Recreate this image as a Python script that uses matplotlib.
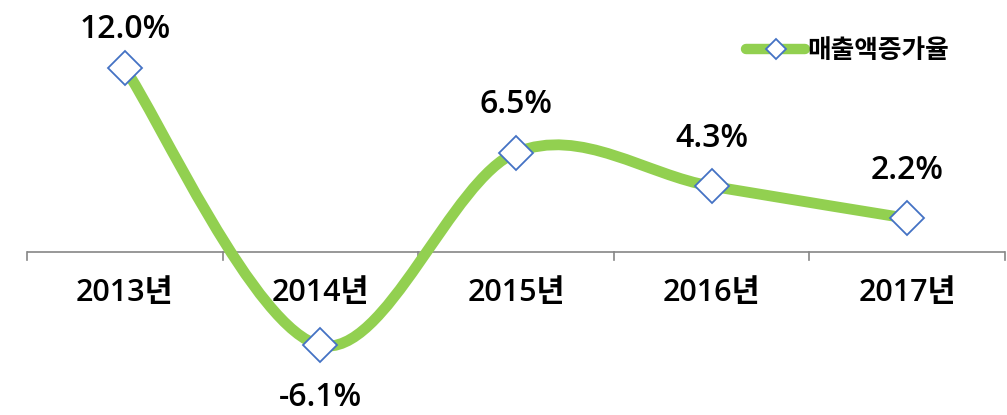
import matplotlib
matplotlib.use("Agg")
import matplotlib.pyplot as plt
from matplotlib.path import Path
from matplotlib.patches import PathPatch
import numpy as np

plt.rcParams['font.family'] = ['Open Sans', 'Noto Sans CJK KR', 'DejaVu Sans']

categories = ['2013년', '2014년', '2015년', '2016년', '2017년']
values = [12.0, -6.1, 6.5, 4.3, 2.2]
labels = ['12.0%', '-6.1%', '6.5%', '4.3%', '2.2%']
series_name = '매출액증가율'

GREEN = '#92D050'
BLUE = '#4472C4'
FIG_W, FIG_H = 1007, 415

fig = plt.figure(figsize=(FIG_W/100, FIG_H/100), dpi=100)
ax = fig.add_axes([27/FIG_W, 0, (1005-27)/FIG_W, 1])

x = np.arange(len(values), dtype=float)
y = np.array(values, dtype=float)

# Excel-style smoothed line: cubic Bezier with Catmull-Rom control points
verts = [(x[0], y[0])]
codes = [Path.MOVETO]
n = len(x)
for i in range(n - 1):
    p0 = np.array([x[max(i-1, 0)], y[max(i-1, 0)]])
    p1 = np.array([x[i], y[i]])
    p2 = np.array([x[i+1], y[i+1]])
    p3 = np.array([x[min(i+2, n-1)], y[min(i+2, n-1)]])
    c1 = p1 + (p2 - p0) / 6.0
    c2 = p2 - (p3 - p1) / 6.0
    verts += [tuple(c1), tuple(c2), tuple(p2)]
    codes += [Path.CURVE4] * 3
path = Path(verts, codes)
ax.add_patch(PathPatch(path, facecolor='none', edgecolor=GREEN, lw=7.8,
                       capstyle='round', joinstyle='round', zorder=2))

ax.plot(x, y, linestyle='none', marker='D', ms=17.5, mfc='white',
        mec=BLUE, mew=1.3, zorder=3)

# legend handle
ax.plot([], [], color=GREEN, lw=7.5, marker='D', ms=10.5, mfc='white',
        mec=BLUE, mew=1.3, label=series_name, solid_capstyle='round')

ax.set_xlim(-0.5, 4.5)
ax.set_ylim(-(FIG_H-252)/15.3, 252/15.3)

# data labels (pixel offsets, clamped inside the figure top)
fig.canvas.draw()
for i, (v, lab) in enumerate(zip(values, labels)):
    px, py = ax.transData.transform((x[i], v))
    if v >= 0:
        ty = min(py + 52, FIG_H - 25)
    else:
        ty = py - 48
    ax.text(px, ty, lab, transform=None, ha='center', va='center_baseline',
            fontsize=23, fontweight='semibold', color='black')

# x axis at zero
ax.axhline(0, color='#868686', lw=1.2, zorder=1)
for b in np.arange(-0.5, 5.0, 1.0):
    ax.plot([b, b], [0, -0.55], color='#868686', lw=1.2, zorder=1, clip_on=False)
for i, c in enumerate(categories):
    px, py = ax.transData.transform((x[i], 0))
    ax.text(px, py - 37, c, transform=None, ha='center', va='center_baseline',
            fontsize=22, fontweight='semibold', color='black')

for s in ax.spines.values():
    s.set_visible(False)
ax.set_xticks([])
ax.set_yticks([])

leg = ax.legend(loc='center left', bbox_to_anchor=(746/FIG_W, 1 - 50/FIG_H),
                bbox_transform=fig.transFigure, frameon=False,
                prop={'size': 18.5, 'weight': 'bold'}, handlelength=2.3,
                handletextpad=0.1, borderaxespad=0, borderpad=0)

fig.savefig('out.png', dpi=100)
